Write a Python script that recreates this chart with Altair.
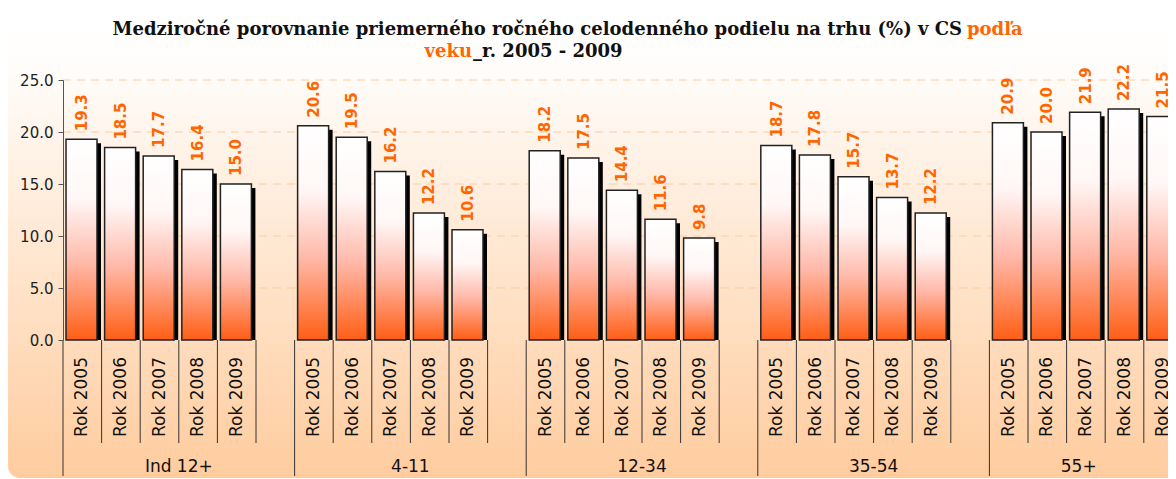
import altair as alt
import pandas as pd

# ---- data -------------------------------------------------------------
groups = ["Ind 12+", "4-11", "12-34", "35-54", "55+"]
years = ["Rok 2005", "Rok 2006", "Rok 2007", "Rok 2008", "Rok 2009"]
ind12 = [19.3, 18.5, 17.7, 16.4, 15.0]
age4_11 = [20.6, 19.5, 16.2, 12.2, 10.6]
age12_34 = [18.2, 17.5, 14.4, 11.6, 9.8]
age35_54 = [18.7, 17.8, 15.7, 13.7, 12.2]
age55 = [20.9, 20.0, 21.9, 22.2, 21.5]
y_ticks = [0, 5, 10, 15, 20, 25]
title_black_1 = "Medziročné porovnanie priemerného ročného celodenného podielu na trhu (%) v CS"
title_orange_1 = "podľa"
title_orange_2 = "veku"
title_black_2 = "_r. 2005 - 2009"

series = [ind12, age4_11, age12_34, age35_54, age55]
SLOTS = 6  # 5 years + 1 gap per group

rows = []
for g, (grp, vals) in enumerate(zip(groups, series)):
    for i, (yr, v) in enumerate(zip(years, vals)):
        rows.append({"group": grp, "year": yr, "value": v, "slot": g * SLOTS + i})
df = pd.DataFrame(rows)

# ---- layout -----------------------------------------------------------
W, H = 1105, 260
SLOT_PX = 38.6
XMAX = W / SLOT_PX
ORANGE = "#FF6600"
FONT = "DejaVu Sans"

xscale = alt.Scale(domain=[0, XMAX], nice=False, zero=False)
yscale = alt.Scale(domain=[0, 25], nice=False)
yaxis = alt.Axis(values=y_ticks, format=".1f", grid=False, title=None,
                 domainColor="#555555", tickColor="#555555", tickSize=5,
                 labelFont=FONT, labelFontSize=15, labelColor="#222222",
                 labelPadding=5, zindex=1)

bg = alt.Chart(pd.DataFrame({"a": [0]})).mark_rect(
    cornerRadius=12,
    fill=alt.Gradient(gradient="linear", x1=0, y1=0, x2=0, y2=1,
                      stops=[alt.GradientStop(color="#FFFFFF", offset=0),
                             alt.GradientStop(color="#FFFDFB", offset=0.1),
                             alt.GradientStop(color="#FFCC9E", offset=1)]),
).encode(x=alt.value(-55), x2=alt.value(W + 20), y=alt.value(-60), y2=alt.value(398))

grid = alt.Chart(pd.DataFrame({"v": y_ticks[1:]})).mark_rule(
    color="#FFCC99", strokeDash=[8, 6], strokeWidth=1
).encode(y=alt.Y("v:Q", scale=yscale, axis=yaxis), x=alt.value(0), x2=alt.value(W))

base = alt.Chart(df).transform_calculate(
    x0="datum.slot + 0.078", x1="datum.slot + 0.881", xc="datum.slot + 0.49"
)

shadow = base.mark_rect(color="#000000", xOffset=4, x2Offset=4, yOffset=4, y2Offset=0).encode(
    x=alt.X("x0:Q", scale=xscale, axis=None), x2="x1:Q",
    y=alt.Y("value:Q", scale=yscale, axis=yaxis), y2=alt.datum(0),
)

bars = base.mark_rect(
    stroke="#222222", strokeWidth=1.5,
    fill=alt.Gradient(gradient="linear", x1=0, y1=0, x2=0, y2=1,
                      stops=[alt.GradientStop(color="#FFFFFF", offset=0),
                             alt.GradientStop(color="#FFF7F6", offset=0.3),
                             alt.GradientStop(color="#FFB8A8", offset=0.62),
                             alt.GradientStop(color="#FF5E14", offset=1)]),
).encode(
    x=alt.X("x0:Q", scale=xscale, axis=None), x2="x1:Q",
    y=alt.Y("value:Q", scale=yscale, axis=yaxis), y2=alt.datum(0),
)

labels = base.mark_text(
    angle=270, align="left", baseline="middle", dx=8,
    font=FONT, fontSize=15, fontWeight="bold", color=ORANGE,
).encode(
    x=alt.X("xc:Q", scale=xscale, axis=None),
    y=alt.Y("value:Q", scale=yscale, axis=yaxis),
    text=alt.Text("value:Q", format=".1f"),
)

# category axis drawn from the slots
bounds = pd.DataFrame({"k": list(range(0, len(groups) * SLOTS + 1))})
short_ticks = alt.Chart(bounds).transform_filter("datum.k % 6 != 0").mark_rule(
    color="#333333", strokeWidth=1
).encode(x=alt.X("k:Q", scale=xscale, axis=None), y=alt.value(H), y2=alt.value(H + 103))
long_ticks = alt.Chart(bounds).transform_filter("datum.k % 6 == 0").mark_rule(
    color="#333333", strokeWidth=1
).encode(x=alt.X("k:Q", scale=xscale, axis=None), y=alt.value(H), y2=alt.value(H + 136))

year_text = base.mark_text(
    angle=270, align="right", baseline="middle", font=FONT, fontSize=17, color="#111111"
).transform_calculate(yc="datum.slot + 0.5").encode(
    x=alt.X("yc:Q", scale=xscale, axis=None), y=alt.value(H + 17), text="year:N"
)

gdf = pd.DataFrame({"group": groups, "g": list(range(len(groups)))})
group_text = alt.Chart(gdf).transform_calculate(
    gc=f"(datum.g * 6 + min(datum.g * 6 + 6, {XMAX})) / 2"
).mark_text(font=FONT, fontSize=17, color="#111111", baseline="alphabetic").encode(
    x=alt.X("gc:Q", scale=xscale, axis=None), y=alt.value(H + 132), text="group:N"
)

tfont = dict(font="DejaVu Serif", fontSize=18, fontWeight="bold", baseline="alphabetic")
one = pd.DataFrame({"a": [0]})
t1a = alt.Chart(one).mark_text(align="right", color="#111111", text=title_black_1, **tfont).encode(
    x=alt.value(899), y=alt.value(-45))
t1b = alt.Chart(one).mark_text(align="left", color=ORANGE, text=title_orange_1, **tfont).encode(
    x=alt.value(904), y=alt.value(-45))
t2a = alt.Chart(one).mark_text(align="right", color=ORANGE, text=title_orange_2, **tfont).encode(
    x=alt.value(409), y=alt.value(-23))
t2b = alt.Chart(one).mark_text(align="left", color="#111111", text=title_black_2, **tfont).encode(
    x=alt.value(410), y=alt.value(-23))

chart = alt.layer(
    bg, grid, shadow, bars, labels, short_ticks, long_ticks, year_text, group_text,
    t1a, t1b, t2a, t2b,
).properties(
    width=W, height=H,
    autosize=alt.AutoSizeParams(type="none"),
    padding={"left": 55, "top": 72, "right": 0, "bottom": 139},
).configure_view(stroke=None).configure(background="#FFFFFF")

chart.save("out.html", embed_options={"renderer": "svg", "actions": False})
